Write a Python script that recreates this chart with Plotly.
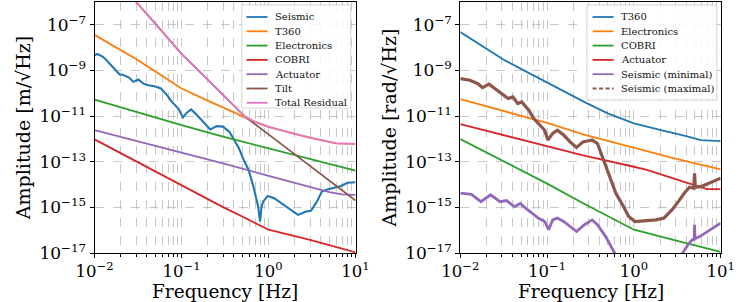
import numpy as np
import plotly.graph_objects as go

# ---------------- Data (amplitudes stored as log10 values) ----------------
# Left panel: [m/√Hz]
L_seis_f = [0.01, 0.0107, 0.0115, 0.0125, 0.0138, 0.0163, 0.0193, 0.0215, 0.0249, 0.0279, 0.032, 0.0365,
            0.0413, 0.0489, 0.058, 0.0685, 0.0776, 0.0918, 0.104, 0.115, 0.129, 0.15, 0.18, 0.214, 0.254,
            0.30, 0.356, 0.42, 0.458, 0.52, 0.59, 0.67, 0.76, 0.80, 0.83, 0.866, 0.98, 1.16, 1.5, 1.77,
            2.18, 2.7, 3.07, 3.6, 4.1, 4.85, 5.76, 6.8, 8.1, 10.0]
L_seis_v = [-8.34, -8.28, -8.33, -8.40, -8.56, -8.85, -9.17, -9.20, -9.31, -9.50, -9.40, -9.58,
            -9.65, -9.69, -9.79, -10.09, -10.38, -10.67, -11.06, -10.85, -10.71, -10.95, -11.30, -11.59, -11.44,
            -11.46, -11.69, -12.20, -12.42, -12.93, -13.36, -14.09, -14.96, -15.62, -15.00, -14.75, -14.50, -14.60, -14.89, -15.08,
            -15.33, -15.18, -15.15, -14.75, -14.31, -14.21, -14.12, -14.06, -13.92, -13.90]

L_t360_f = [0.01, 0.02, 0.03, 0.05, 0.1, 0.2, 0.3, 0.54, 0.7, 1.0, 2.0, 2.7, 4.0, 6.0, 10.0]
L_t360_v = [-7.44, -8.10, -8.50, -9.05, -9.79, -10.32, -10.62, -11.03, -11.25, -11.47, -11.78, -11.91, -12.05, -12.20, -12.22]

L_elec_f = [0.01, 0.03, 0.1, 0.3, 1.0, 3.0, 10.0]
L_elec_v = [-10.28, -10.83, -11.40, -11.90, -12.42, -12.90, -13.39]

L_cobri_f = [0.01, 0.03, 0.1, 0.3, 0.5, 1.0, 3.0, 10.0]
L_cobri_v = [-12.02, -12.98, -14.00, -14.99, -15.40, -15.98, -16.42, -16.97]

L_act_f = [0.01, 0.1, 0.3, 1.0, 3.0, 5.0, 7.0, 10.0]
L_act_v = [-11.62, -12.59, -13.07, -13.62, -14.10, -14.33, -14.43, -14.45]

L_tilt_f = [0.01, 0.02, 0.03, 0.05, 0.1, 0.2, 0.3, 0.54, 1.0, 2.0, 5.0, 10.0]
L_tilt_v = [-3.90, -5.25, -6.00, -6.95, -8.27, -9.40, -10.07, -11.03, -11.80, -12.68, -13.83, -14.70]

L_tot_f = [0.01, 0.02, 0.03, 0.05, 0.1, 0.2, 0.3, 0.54, 0.7, 1.0, 2.0, 2.7, 4.0, 6.0, 10.0]
L_tot_v = [-3.90, -5.25, -6.00, -6.95, -8.27, -9.40, -10.07, -11.03, -11.25, -11.47, -11.78, -11.91, -12.05, -12.20, -12.22]

# Right panel: [rad/√Hz]
R_t360_f = [0.01, 0.02, 0.0326, 0.05, 0.106, 0.2, 0.281, 0.5, 1.0, 2.0, 2.54, 4.0, 5.9, 10.0]
R_t360_v = [-7.32, -8.05, -8.56, -8.93, -9.58, -10.12, -10.42, -10.88, -11.32, -11.60, -11.69, -11.88, -12.05, -12.10]

R_elec_f = [0.01, 0.1, 0.26, 1.0, 3.0, 10.0]
R_elec_v = [-10.26, -11.30, -11.80, -12.38, -12.86, -13.34]

R_cobri_f = [0.01, 0.03, 0.1, 0.26, 0.5, 1.0, 3.0, 10.0]
R_cobri_v = [-12.01, -12.95, -13.96, -14.82, -15.40, -15.98, -16.45, -16.95]

R_act_f = [0.01, 0.1, 0.26, 1.0, 1.41, 4.2, 7.0, 10.0]
R_act_v = [-11.35, -12.33, -12.72, -13.22, -13.36, -13.94, -14.20, -14.20]

R_smin_f = [0.01, 0.0134, 0.0173, 0.0223, 0.0287, 0.034, 0.042, 0.049, 0.0565, 0.0668, 0.079, 0.0937,
            0.104, 0.116, 0.131, 0.155, 0.184, 0.218, 0.27, 0.33, 0.38, 0.47, 0.6, 0.8, 1.5, 3.0,
            3.5, 4.2, 4.7, 4.95, 5.0, 5.05, 5.9, 7.6, 10.0]
R_smin_v = [-14.38, -14.43, -14.75, -14.45, -14.75, -14.70, -14.97, -14.83, -15.03, -15.25, -15.47, -15.62,
            -15.98, -15.55, -15.47, -15.62, -15.84, -16.06, -15.76, -15.55, -15.76, -16.27, -17.00, -17.8, -18.3, -17.6,
            -17.10, -16.64, -16.42, -16.40, -15.76, -16.38, -16.25, -15.98, -15.69]

R_smax_f = [0.01, 0.0129, 0.0159, 0.018, 0.0214, 0.0253, 0.030, 0.0355, 0.0403, 0.0458, 0.051, 0.0615,
            0.0698, 0.079, 0.0937, 0.102, 0.116, 0.131, 0.155, 0.184, 0.218, 0.259, 0.33, 0.38, 0.446,
            0.527, 0.62, 0.74, 0.87, 1.03, 1.40, 1.8, 2.22, 2.74, 3.25, 3.8, 4.37, 4.9, 5.0, 5.1,
            5.9, 7.6, 10.0]
R_smax_v = [-9.36, -9.43, -9.58, -9.75, -9.60, -9.80, -10.04, -10.23, -10.16, -10.45, -10.38, -10.74,
            -11.10, -11.32, -11.62, -12.05, -11.76, -11.62, -11.83, -12.13, -12.37, -12.13, -12.05, -12.20, -12.93,
            -13.66, -14.38, -14.89, -15.40, -15.62, -15.58, -15.55, -15.47, -15.11, -14.75, -14.38, -14.12, -14.16, -13.51, -14.12,
            -14.09, -13.92, -13.72]

y_tick_exp = [-17, -15, -13, -11, -9, -7]
x_tick_exp = [-2, -1, 0, 1]

# ---------------- Style ----------------
C = dict(blue="#1f77b4", orange="#ff7f0e", green="#2ca02c", red="#d62728",
         purple="#9467bd", brown="#8c564b", pink="#e377c2")
FONT = "DejaVu Serif"
LW = 1.8
W, H = 749, 302
MT, MB = 2, 49
XDOM1 = [0.1055, 0.470]
XDOM2 = [0.6164, 0.980]


def amp(v):
    return np.power(10.0, np.array(v, dtype=float))


def px(x):
    return x / W


def py(y):
    return (H - MB - y) / (H - MT - MB)


fig = go.Figure()

left = [
    ("Seismic", L_seis_f, L_seis_v, C["blue"], 2.1, "solid"),
    ("T360", L_t360_f, L_t360_v, C["orange"], LW, "solid"),
    ("Electronics", L_elec_f, L_elec_v, C["green"], LW, "solid"),
    ("COBRI", L_cobri_f, L_cobri_v, C["red"], LW, "solid"),
    ("Actuator", L_act_f, L_act_v, C["purple"], LW, "solid"),
    ("Tilt", L_tilt_f, L_tilt_v, C["brown"], LW, "solid"),
    ("Total Residual", L_tot_f, L_tot_v, C["pink"], LW, "solid"),
]
for name, f, v, col, w, d in left:
    fig.add_trace(go.Scatter(x=f, y=amp(v), mode="lines", name=name,
                             line=dict(color=col, width=w), showlegend=False,
                             xaxis="x", yaxis="y"))

right = [
    ("T360", R_t360_f, R_t360_v, C["blue"], LW, "solid"),
    ("Electronics", R_elec_f, R_elec_v, C["orange"], LW, "solid"),
    ("COBRI", R_cobri_f, R_cobri_v, C["green"], LW, "solid"),
    ("Actuator", R_act_f, R_act_v, C["red"], LW, "solid"),
    ("Seismic (minimal)", R_smin_f, R_smin_v, C["purple"], 2.8, "solid"),
    ("Seismic (maximal)", R_smax_f, R_smax_v, C["brown"], 3.2, "dash"),
]
for name, f, v, col, w, d in right:
    # the dense noisy maximal curve reads as a thick band in the plot
    fig.add_trace(go.Scatter(x=f, y=amp(v), mode="lines", name=name,
                             line=dict(color=col, width=w), showlegend=False,
                             xaxis="x2", yaxis="y2"))

# ---------------- Legends (matplotlib-like compact boxes) ----------------
shapes = []
annots = []


def add_legend(entries, box, line_x0, line_x1, text_x, y0, step):
    bx0, by0, bx1, by1 = box
    shapes.append(dict(type="rect", xref="paper", yref="paper",
                       x0=px(bx0), x1=px(bx1), y0=py(by1), y1=py(by0),
                       line=dict(color="#d6d6d6", width=1),
                       fillcolor="rgba(255,255,255,0.85)", layer="above"))
    for i, (name, _f, _v, col, _w, d) in enumerate(entries):
        yc = y0 + step * i
        shapes.append(dict(type="line", xref="paper", yref="paper",
                           x0=px(line_x0), x1=px(line_x1), y0=py(yc), y1=py(yc),
                           line=dict(color=col, width=1.8, dash=("4px,2.5px" if d == "dash" else "solid")),
                           layer="above"))
        annots.append(dict(text=name, xref="paper", yref="paper", x=px(text_x), y=py(yc),
                           xanchor="left", yanchor="middle", showarrow=False,
                           font=dict(family=FONT, size=10, color="#111")))


add_legend(left, (233, 5, 347, 108), 238, 260, 266, 17.0, 14.3)
add_legend(right, (594, 5, 730, 100), 600, 622, 628, 17.0, 14.3)

# x-axis titles placed just under the tick labels, as in the reference
for dom in (XDOM1, XDOM2):
    annots.append(dict(text="Frequency [Hz]", xref="paper", yref="paper",
                       x=(dom[0] + dom[1]) / 2, y=py(304), xanchor="center", yanchor="bottom",
                       showarrow=False, font=dict(family=FONT, size=18.5, color="black")))


def sup(e):
    return "10<sup>" + (("\u2212" + str(-e)) if e < 0 else str(e)) + "</sup>"


minor_x = [m * 10.0 ** k for k in range(-2, 1) for m in range(2, 10)]
grid = "rgba(176,176,176,0.7)"
TF = 16.5

xcommon = dict(type="log", range=[-2, 1], tickmode="array",
               tickvals=[10.0 ** e for e in x_tick_exp], ticktext=[sup(e) for e in x_tick_exp],
               ticks="outside", ticklen=3.5, tickwidth=1, tickcolor="black",
               showline=True, mirror=True, linecolor="black", linewidth=1,
               showgrid=True, gridcolor=grid, griddash="dash", gridwidth=0.8,
               minor=dict(tickmode="array", tickvals=minor_x, ticks="outside", ticklen=2.5,
                          tickcolor="black", showgrid=True, gridcolor=grid, griddash="dash", gridwidth=0.8),
               tickfont=dict(family=FONT, size=TF, color="black"),
               zeroline=False)
ycommon = dict(type="log", range=[-17, -6], tickmode="array",
               tickvals=[10.0 ** e for e in y_tick_exp], ticktext=[sup(e) for e in y_tick_exp],
               ticks="outside", ticklen=4, tickwidth=1, tickcolor="black",
               showline=True, mirror=True, linecolor="black", linewidth=1,
               showgrid=True, gridcolor=grid, griddash="dash", gridwidth=0.8,
               tickfont=dict(family=FONT, size=17, color="black"),
               zeroline=False)

fig.update_layout(
    width=W, height=H,
    margin=dict(l=0, r=0, t=MT, b=MB),
    paper_bgcolor="white", plot_bgcolor="white",
    font=dict(family=FONT, color="black"),
    showlegend=False,
    xaxis=dict(domain=XDOM1, anchor="y", **xcommon),
    yaxis=dict(domain=[0, 1], anchor="x",
               title=dict(text="Amplitude [m/\u221aHz]", font=dict(family=FONT, size=19, color="black"), standoff=3),
               **ycommon),
    xaxis2=dict(domain=XDOM2, anchor="y2", **xcommon),
    yaxis2=dict(domain=[0, 1], anchor="x2",
                title=dict(text="Amplitude [rad/\u221aHz]", font=dict(family=FONT, size=19, color="black"), standoff=3),
                **ycommon),
    shapes=shapes,
    annotations=annots,
)

fig.write_html("out.html")
